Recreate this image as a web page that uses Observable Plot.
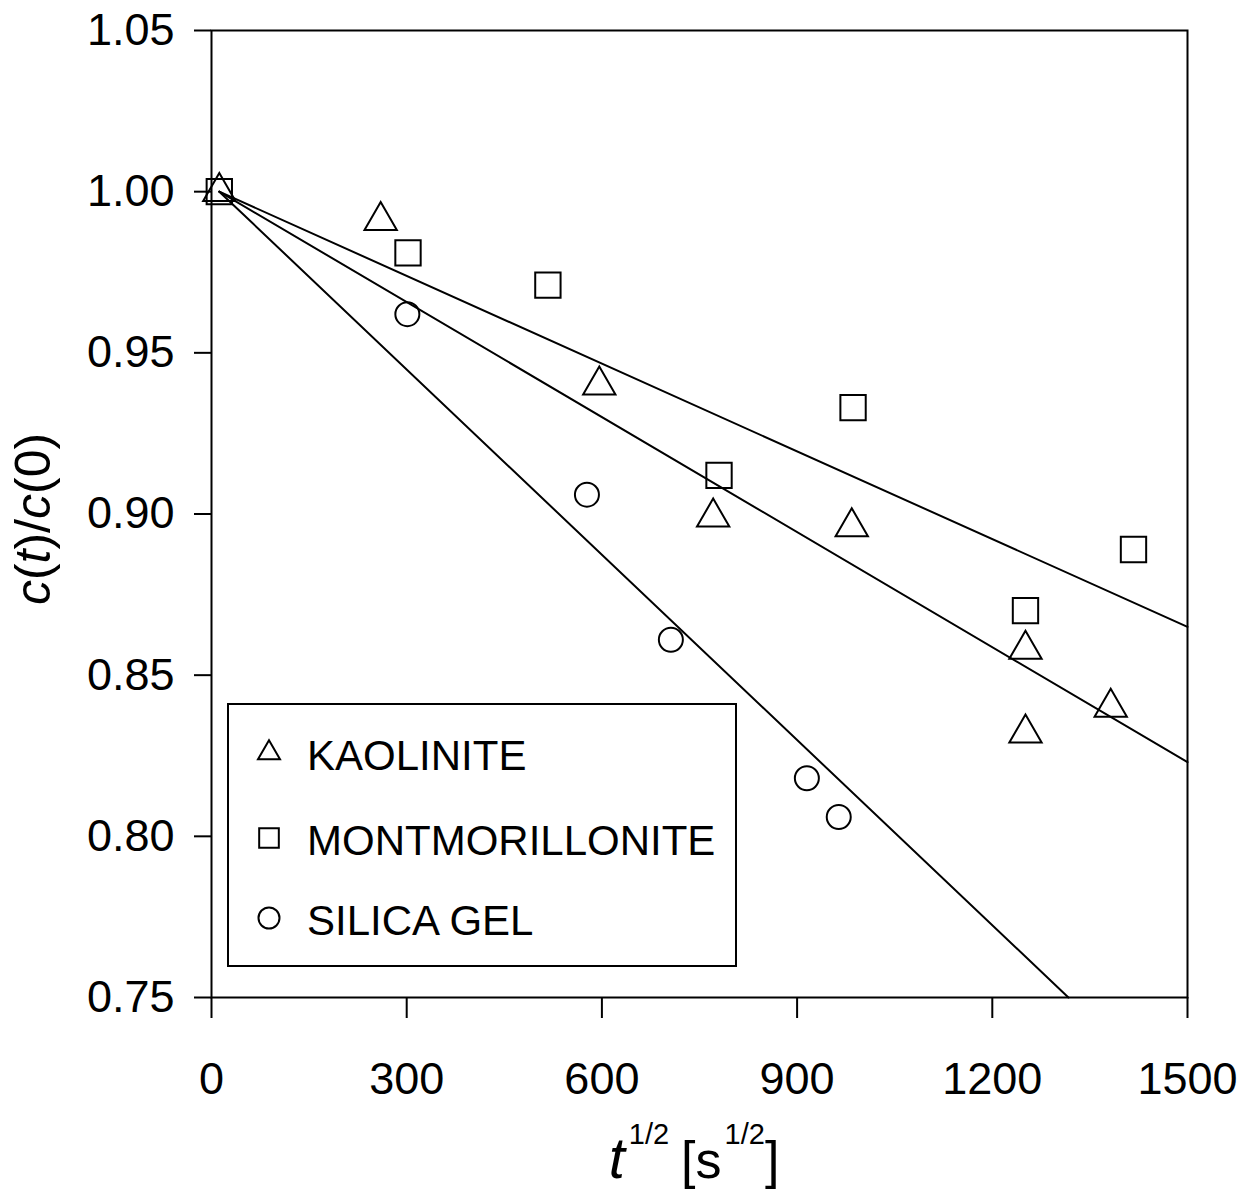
<!DOCTYPE html>
<html><head><meta charset="utf-8">
<script src="https://cdn.jsdelivr.net/npm/d3@7"></script>
<script src="https://cdn.jsdelivr.net/npm/@observablehq/plot@0.6"></script>
<style>
body{margin:0;background:#fff;}
#chart{position:relative;width:1250px;height:1193px;}
#legend{position:absolute;left:227px;top:703px;}
</style></head><body><div id="chart"></div>
<script>
// ---- data ----
const seriesNames = ["KAOLINITE", "MONTMORILLONITE", "SILICA GEL"];
const seriesSymbols = ["triangle", "square", "circle"];

const kaoliniteX = [12, 260, 596, 771, 984, 1251, 1251, 1382];
const kaoliniteY = [1.000, 0.991, 0.940, 0.899, 0.896, 0.858, 0.832, 0.840];

const montmorilloniteX = [12, 302, 517, 780, 986, 1251, 1417];
const montmorilloniteY = [1.000, 0.981, 0.971, 0.912, 0.933, 0.870, 0.889];

const silicaX = [301, 577, 706, 915, 964];
const silicaY = [0.962, 0.906, 0.861, 0.818, 0.806];

// fitted straight lines (end points)
const fitKaoliniteX = [12, 1500];
const fitKaoliniteY = [1.000, 0.823];
const fitMontmorilloniteX = [12, 1500];
const fitMontmorilloniteY = [1.000, 0.865];
const fitSilicaX = [12, 1317];
const fitSilicaY = [1.000, 0.750];

const xTicks = [0, 300, 600, 900, 1200, 1500];
const yTicks = [0.75, 0.80, 0.85, 0.90, 0.95, 1.00, 1.05];

const FONT = "'Liberation Sans', Arial, Helvetica, sans-serif";

const plot = Plot.plot({
  width: 1250, height: 1193,
  marginLeft: 211, marginRight: 63, marginTop: 30, marginBottom: 196,
  style: {fontFamily: FONT, fontSize: "44px", color: "#000", background: "#fff", overflow: "visible"},
  x: {domain: [0, 1500]},
  y: {domain: [0.75, 1.05]},
  marks: [
    Plot.frame({stroke: "#000", strokeWidth: 2}),
    Plot.axisX({ticks: xTicks, tickSize: 21, tickPadding: 44, label: null, strokeWidth: 2,
                fontSize: 45, tickFormat: d => String(d)}),
    Plot.axisY({ticks: yTicks, tickSize: 17, tickPadding: 20, label: null, strokeWidth: 2,
                fontSize: 45, tickFormat: d => d.toFixed(2)}),
    Plot.line(fitKaoliniteX, {x: fitKaoliniteX, y: fitKaoliniteY, stroke: "#000", strokeWidth: 2}),
    Plot.line(fitMontmorilloniteX, {x: fitMontmorilloniteX, y: fitMontmorilloniteY, stroke: "#000", strokeWidth: 2}),
    Plot.line(fitSilicaX, {x: fitSilicaX, y: fitSilicaY, stroke: "#000", strokeWidth: 2}),
    Plot.dot(silicaX, {x: silicaX, y: silicaY, symbol: seriesSymbols[2], r: 12, stroke: "#000", fill: "none", strokeWidth: 2}),
    Plot.dot(montmorilloniteX, {x: montmorilloniteX, y: montmorilloniteY, symbol: seriesSymbols[1], r: 14.3, stroke: "#000", fill: "none", strokeWidth: 2}),
    Plot.dot(kaoliniteX, {x: kaoliniteX, y: kaoliniteY, symbol: seriesSymbols[0], r: 12, stroke: "#000", fill: "none", strokeWidth: 2})
  ]
});

const chart = document.getElementById("chart");
chart.appendChild(plot);
const svg = d3.select(plot);

// y axis label: c(t)/c(0)
const yl = svg.append("text")
  .attr("transform", "translate(50,519) rotate(-90)")
  .attr("text-anchor", "middle")
  .attr("font-family", FONT).attr("font-size", 50).attr("fill", "#000");
[["c", true], ["(", false], ["t", true], [")/", false], ["c", true], ["(0)", false]]
  .forEach(([s, it]) => yl.append("tspan").attr("font-style", it ? "italic" : "normal").text(s));

// x axis label: t^{1/2} [s^{1/2}]
const xl = svg.append("text")
  .attr("x", 694).attr("y", 1178)
  .attr("text-anchor", "middle")
  .attr("font-family", FONT).attr("font-size", 52).attr("fill", "#000");
xl.append("tspan").attr("font-style", "italic").attr("font-size", 58).text("t");
xl.append("tspan").attr("font-size", 29).attr("dx", 4).attr("dy", -34).text("1/2");
xl.append("tspan").attr("dx", 12).attr("dy", 34).text("[s");
xl.append("tspan").attr("font-size", 29).attr("dx", 3).attr("dy", -34).text("1/2");
xl.append("tspan").attr("dy", 34).text("]");

// legend box inside the plot
const lg = d3.select(chart).append("svg").attr("id", "legend")
  .attr("width", 514).attr("height", 266);
lg.append("rect").attr("x", 1).attr("y", 1).attr("width", 508).attr("height", 262)
  .attr("fill", "#fff").attr("stroke", "#000").attr("stroke-width", 2);
const symType = {triangle: d3.symbolTriangle2, square: d3.symbolSquare2, circle: d3.symbolCircle};
const legendR = [10.5, 12.5, 10.5];
const legendBaselines = [67, 152, 232];
seriesNames.forEach((name, i) => {
  const r = legendR[i];
  lg.append("path")
    .attr("transform", `translate(42,${legendBaselines[i] - 17})`)
    .attr("d", d3.symbol().type(symType[seriesSymbols[i]]).size(Math.PI * r * r)())
    .attr("fill", "none").attr("stroke", "#000").attr("stroke-width", 2);
  lg.append("text").attr("x", 80).attr("y", legendBaselines[i])
    .attr("font-family", FONT).attr("font-size", 42).attr("fill", "#000")
    .text(name);
});
</script></body></html>
